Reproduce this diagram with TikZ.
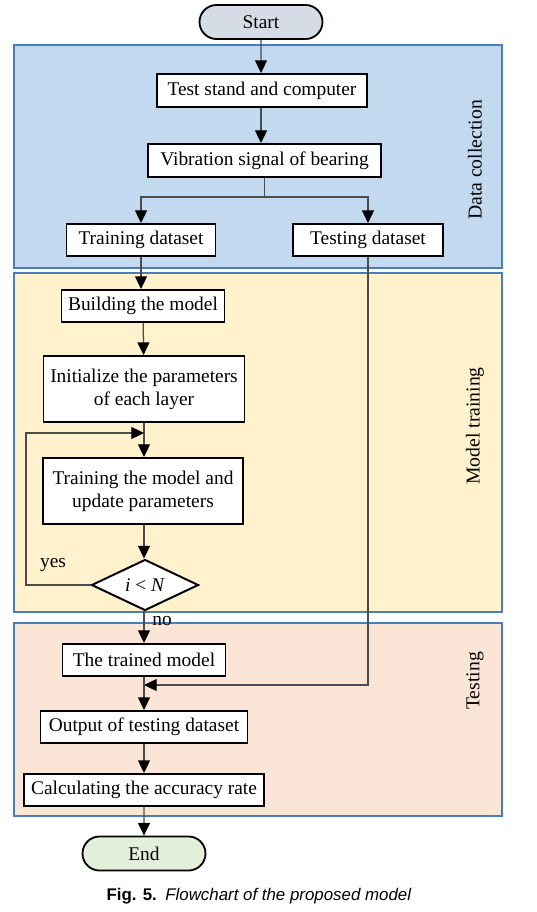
\documentclass[tikz,border=0pt]{standalone}
\usepackage{fontspec}
\setmainfont{Liberation Serif}
\setsansfont{Liberation Sans}
\usetikzlibrary{arrows.meta}
\usetikzlibrary{shapes.geometric,shapes.misc}

\newlength{\pxu}
\setlength{\pxu}{0.025cm}
\definecolor{dcfill}{HTML}{C2D9EF}
\definecolor{mtfill}{HTML}{FFF2CC}
\definecolor{tsfill}{HTML}{FBE5D6}
\definecolor{panelline}{HTML}{4A7EBB}
\definecolor{startfill}{HTML}{D6DCE5}
\definecolor{endfill}{HTML}{E2F0D9}

\begin{document}
\begin{tikzpicture}[x=\pxu,y=-\pxu,
  font=\fontsize{13.8}{16.3}\selectfont,
  box/.style={draw,line width=1.4pt,fill=white,inner sep=0pt,align=center},
  term/.style={draw,line width=1.3pt,rounded rectangle,inner sep=0pt,minimum width=123\pxu,minimum height=34\pxu},
  panel/.style={draw=panelline,line width=1.4pt},
  arr/.style={draw=black!70,line width=0.9pt,-{Triangle[width=8.5pt,length=9pt,color=black]}},
  lbl/.style={rotate=90,font=\fontsize{14}{16}\selectfont}]

\useasboundingbox (0,0) rectangle (537,912);

\draw[panel,fill=dcfill] (14,45) rectangle (502,268);
\draw[panel,fill=mtfill] (14,273) rectangle (502,612);
\draw[panel,fill=tsfill] (14,623) rectangle (502,816);

\node[lbl] (ldc) at (475,160) {Data collection};
\node[lbl] (lmt) at (475,426) {Model training};
\node[lbl] (lts) at (475,681) {Testing};

\node[term,fill=startfill] (st) at (261,22) {Start};
\node[box,minimum width=210\pxu,minimum height=33\pxu] (tsc) at (262,90.5) {Test stand and computer};
\node[box,minimum width=233\pxu,minimum height=33\pxu] (vsb) at (264.5,160.5) {Vibration signal of bearing};
\node[box,minimum width=149\pxu,minimum height=32\pxu] (trd) at (141,240) {Training dataset};
\node[box,minimum width=150\pxu,minimum height=32\pxu] (ted) at (368,240) {Testing dataset};

\node[box,minimum width=163\pxu,minimum height=32\pxu] (bm) at (143,306) {Building the model};
\node[box,minimum width=201\pxu,minimum height=66\pxu] (ip) at (144,389) {Initialize the parameters\\of each layer};
\node[box,minimum width=200\pxu,minimum height=66\pxu] (tm) at (143,491) {Training the model and\\update parameters};
\node[draw,diamond,line width=1.4pt,fill=white,inner sep=0pt,shape aspect=2.1,minimum width=107\pxu,minimum height=51\pxu] (dc) at (145,585) {\textit{i} < \textit{N}};

\node[box,minimum width=163\pxu,minimum height=32\pxu] (tdm) at (144,660) {The trained model};
\node[box,minimum width=207\pxu,minimum height=32\pxu] (out) at (144,727) {Output of testing dataset};
\node[box,minimum width=240\pxu,minimum height=32\pxu] (acc) at (144,790) {Calculating the accuracy rate};
\node[term,fill=endfill] (en) at (144,853.5) {End};

\node (yes) at (53,565) {yes};
\node (no) at (162,621) {no};

\coordinate (br) at (264.5,197);
\coordinate (lp) at (26,433);
\coordinate (mg) at (369,685);

\draw[arr] (st) -- (st.south |- tsc.north);
\draw[arr] (st.south |- tsc.south) -- (st.south |- vsb.north);
\draw[draw=black!70,line width=0.9pt] (vsb) -- (br);
\draw[arr] (br) -| (trd.north);
\draw[arr] (br) -| (ted.north);
\draw[arr] (trd) -- (trd.south |- bm.north);
\draw[arr] (bm) -- (ip);
\draw[arr] (ip.south) -- (ip.south |- tm.north);
\draw[arr] (tm.south -| ip.south) -- (ip.south |- dc.north);
\draw[arr] (dc.west) -- (dc.west -| lp) -- (lp) -- (ip.south |- lp);
\draw[arr] (dc.south -| ip.south) -- (ip.south |- tdm.north);
\draw[arr] (ted.south) |- (tdm.south |- mg);
\draw[arr] (tdm) -- (out);
\draw[arr] (out) -- (acc);
\draw[arr] (acc) -- (en);

\node (cap) at (259,896) {\sffamily\fontsize{12}{14}\selectfont\textbf{Fig. 5.}\enspace\textit{Flowchart of the proposed model}};
\end{tikzpicture}
\end{document}
